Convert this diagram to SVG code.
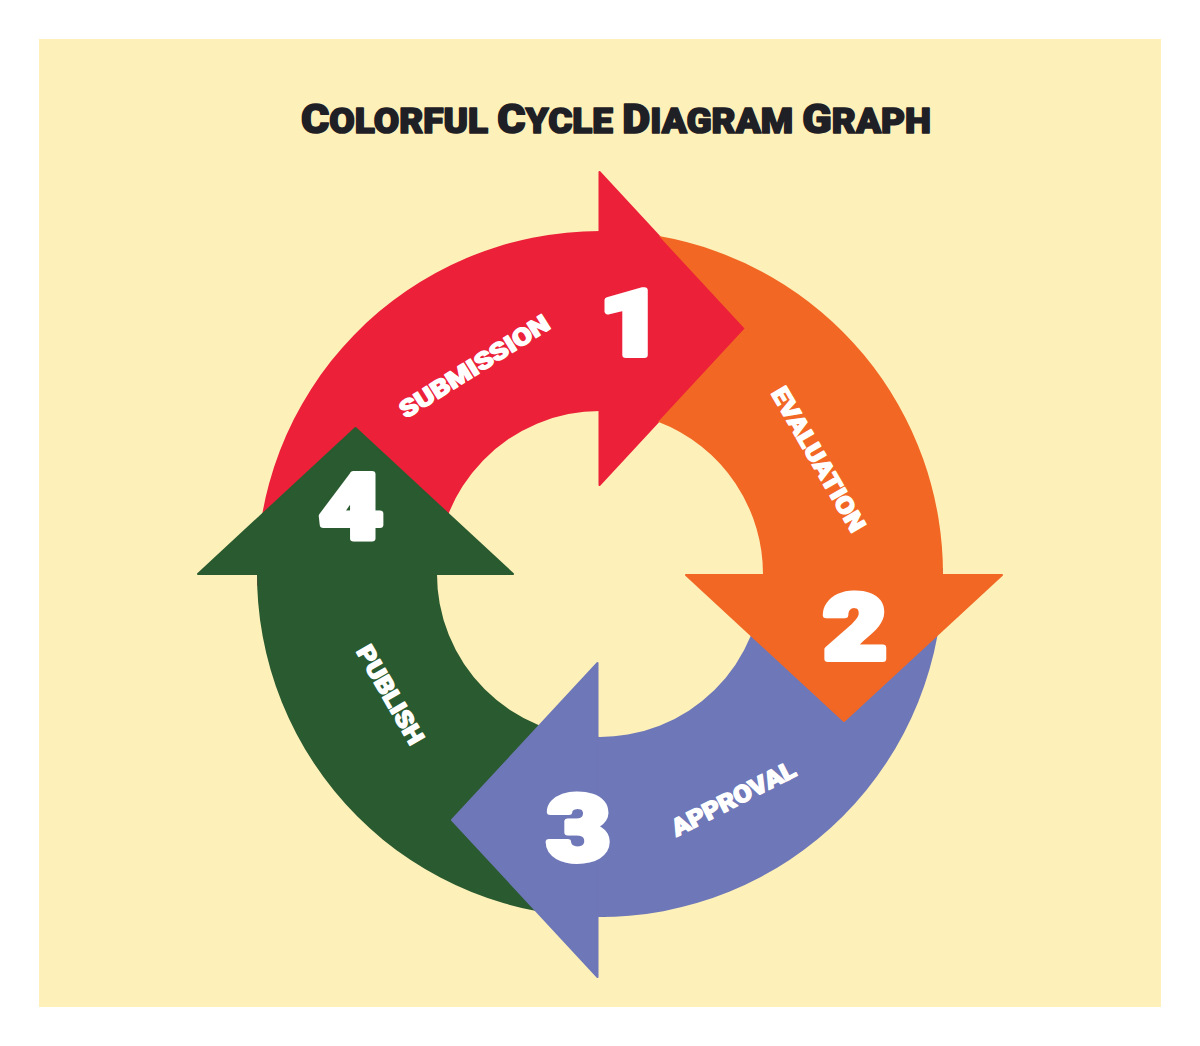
<svg xmlns="http://www.w3.org/2000/svg" width="1200" height="1046" viewBox="0 0 1200 1046">
<style>
.bg{fill:#FDF0B9}
.txt{font-family:Roboto,"Open Sans","DejaVu Sans",sans-serif;font-weight:900}
.title{fill:#1F2025;stroke:#1F2025;stroke-width:1.6;stroke-linejoin:round}
.lbl{fill:#FFFFFF;stroke:#FFFFFF;stroke-width:1.3;stroke-linejoin:round;font-size:24px;text-anchor:middle}
.num{fill:#FFFFFF;stroke:#FFFFFF;stroke-width:6;stroke-linejoin:round;font-size:90px;text-anchor:middle}
.red{fill:#EC2039}
.org{fill:#F26724}
.blu{fill:#6E77B7}
.grn{fill:#2A5A2F}
.head{stroke-width:2;stroke-linejoin:round}
.red.head{stroke:#EC2039}
.org.head{stroke:#F26724}
.blu.head{stroke:#6E77B7}
.grn.head{stroke:#2A5A2F}
</style>
<rect class="bg" x="39" y="39" width="1122" height="968"/>
<g id="title">
<text class="txt title" x="616" y="133" text-anchor="middle" textLength="630" lengthAdjust="spacingAndGlyphs"><tspan font-size="41">C</tspan><tspan font-size="35">OLORFUL </tspan><tspan font-size="41">C</tspan><tspan font-size="35">YCLE </tspan><tspan font-size="41">D</tspan><tspan font-size="35">IAGRAM </tspan><tspan font-size="41">G</tspan><tspan font-size="35">RAPH</tspan></text>
</g>
<g id="connectors"></g>
<g id="node-submission">
<path class="red" d="M 257.2,586 A 343 343 0 0 1 601,231 L 601,411 A 163 163 0 0 0 437.1,579.7 Z"/>
<polygon class="red head" points="599.5,172 744.5,328.5 599.5,485"/>
<text class="txt lbl" transform="translate(474,366) rotate(-32)" x="0" y="9" textLength="172" lengthAdjust="spacingAndGlyphs">SUBMISSION</text>
<text class="txt num" transform="translate(631,355) scale(1.22,1)" x="0" y="0">1</text>
</g>
<g id="node-publish">
<path class="grn" d="M 606,917 A 343 343 0 0 1 257.05,568 L 437,571.2 A 163 163 0 0 0 602.8,737 Z"/>
<polygon class="grn head" points="198,574 355.5,428 513,574"/>
<text class="txt lbl" transform="translate(391,694.5) rotate(60)" x="0" y="9" textLength="110" lengthAdjust="spacingAndGlyphs">PUBLISH</text>
<text class="txt num" transform="translate(351,539) scale(1.22,1)" x="0" y="0">4</text>
</g>
<g id="node-approval">
<path class="blu" d="M 942.95,568 A 343 343 0 0 1 595,917 L 595,736.9 A 163 163 0 0 0 763,571.2 Z"/>
<polygon class="blu head" points="597.5,663 452,820 597.5,977"/>
<text class="txt lbl" transform="translate(733,798) rotate(-27)" x="0" y="9" textLength="136" lengthAdjust="spacingAndGlyphs">APPROVAL</text>
<text class="txt num" transform="translate(578.5,860) scale(1.22,1)" x="0" y="0">3</text>
</g>
<g id="node-evaluation">
<path class="org" d="M 658.9,236.1 A 343 343 0 0 1 942.98,578 L 762.95,578 A 163 163 0 0 0 658.1,421.7 L 744.5,328.5 Z"/>
<polygon class="org head" points="686,575 1002,575 844,721"/>
<text class="txt lbl" transform="translate(819,459) rotate(60)" x="0" y="9" textLength="163" lengthAdjust="spacingAndGlyphs">EVALUATION</text>
<text class="txt num" transform="translate(855,659) scale(1.22,1)" x="0" y="0">2</text>
</g>
</svg>
